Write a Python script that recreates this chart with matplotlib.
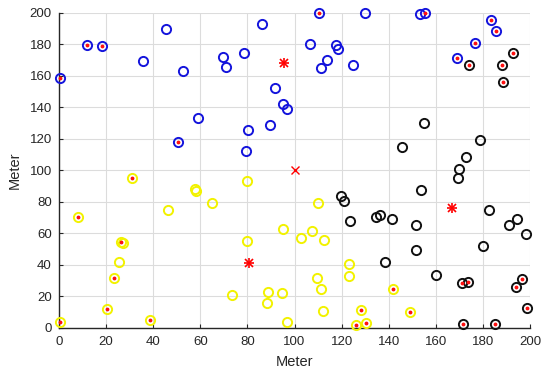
import matplotlib
matplotlib.use('Agg')
import matplotlib.pyplot as plt

plt.rcParams['font.family'] = ['Liberation Sans', 'DejaVu Sans']

# cluster 1 (blue)
blue_x = [0.3, 11.9, 18.4, 35.9, 45.4, 52.7, 59.2, 50.7, 69.8, 70.8, 78.6, 86.0, 80.3, 79.2, 89.5, 91.9,
          95.0, 96.6, 110.4, 129.7, 153.3, 155.4, 183.4, 185.7, 176.6, 168.9, 106.6, 117.6, 118.6, 113.7,
          111.2, 124.6]
blue_y = [158.3, 179.5, 178.9, 169.5, 189.5, 163.0, 133.0, 118.0, 171.7, 165.3, 174.2, 193.0, 125.5, 112.2,
          128.7, 152.0, 142.0, 139.0, 200.0, 200.0, 199.0, 200.0, 195.4, 188.4, 180.6, 171.4, 180.1, 179.7,
          177.0, 169.8, 164.7, 166.6]
blue_head = [1, 1, 1, 0, 0, 0, 0, 1, 0, 0, 0, 0, 0, 0, 0, 0, 0, 0, 1, 0, 0, 1, 1, 1, 1, 1, 0, 0, 0, 0, 0, 0]

# cluster 2 (yellow)
yellow_x = [0.3, 8.3, 26.5, 27.2, 25.7, 23.2, 20.4, 38.7, 31.0, 46.5, 57.8, 58.4, 64.8, 80.0, 79.9, 73.6,
            88.7, 88.3, 94.6, 97.0, 95.0, 102.9, 107.5, 112.6, 110.1, 123.0, 123.2, 109.5, 111.2, 112.0,
            128.1, 126.1, 130.2, 141.8, 149.0]
yellow_y = [4.0, 70.5, 54.5, 53.7, 41.9, 31.4, 11.9, 5.3, 95.2, 74.7, 87.9, 86.9, 79.0, 93.3, 55.2, 20.8,
            22.7, 15.7, 22.2, 3.8, 62.9, 57.1, 61.8, 55.9, 79.0, 40.6, 33.0, 31.4, 24.6, 11.0,
            11.4, 1.7, 3.4, 24.6, 9.8]
yellow_head = [1, 1, 1, 0, 0, 1, 1, 1, 1, 0, 0, 0, 0, 0, 0, 0, 0, 0, 0, 0, 0, 0, 0, 0, 0, 0, 0, 0, 0, 0,
               1, 1, 1, 1, 1]

# cluster 3 (black)
black_x = [174.2, 192.9, 188.2, 188.6, 154.9, 145.8, 178.8, 172.7, 169.7, 169.4, 153.7, 119.8, 121.0, 123.6,
           134.6, 136.2, 141.4, 151.6, 151.6, 138.3, 160.0, 182.4, 194.3, 191.2, 198.1, 179.9, 171.0, 173.5,
           193.9, 196.7, 198.7, 171.4, 185.0]
black_y = [166.6, 174.2, 166.6, 156.0, 130.2, 114.7, 119.2, 108.2, 101.0, 95.2, 87.6, 83.6, 80.4, 67.7,
           70.1, 71.8, 68.8, 65.6, 49.5, 41.9, 33.7, 74.7, 68.8, 65.4, 59.5, 51.9, 28.6, 29.2,
           26.0, 30.9, 12.3, 2.3, 2.3]
black_head = [1, 1, 1, 1, 0, 0, 0, 0, 0, 0, 0, 0, 0, 0, 0, 0, 0, 0, 0, 0, 0, 0, 0, 0, 0, 0, 1, 1,
              1, 1, 1, 1, 1]

center_x = [95.7, 80.5, 166.7]
center_y = [167.9, 41.3, 75.8]
bs_x = [100]
bs_y = [100]

fig = plt.figure(figsize=(5.5, 3.76), dpi=100)
ax = fig.add_axes([0.107, 0.128, 0.857, 0.838])

groups = [(blue_x, blue_y, blue_head, '#1414dc'),
          (yellow_x, yellow_y, yellow_head, '#f2f200'),
          (black_x, black_y, black_head, '#111111')]
for xs, ys, hs, col in groups:
    ax.plot(xs, ys, 'o', ms=6.6, mfc='none', mec=col, mew=1.4, ls='none', clip_on=False, zorder=3)
    hx = [x for x, h in zip(xs, hs) if h]
    hy = [y for y, h in zip(ys, hs) if h]
    ax.plot(hx, hy, '.', ms=3.5, color='#ff1010', ls='none', clip_on=False, zorder=4)

# cluster centres drawn as MATLAB style asterisk (+ and x)
ax.plot(center_x, center_y, '+', ms=7, mew=1.2, color='red', ls='none', zorder=5)
ax.plot(center_x, center_y, 'x', ms=5.5, mew=1.2, color='red', ls='none', zorder=5)
ax.plot(bs_x, bs_y, 'x', ms=6, mew=1, color='red', ls='none', zorder=5)

ax.set_xlim(0, 200)
ax.set_ylim(0, 200)
ax.set_xticks(range(0, 201, 20))
ax.set_yticks(range(0, 201, 20))
ax.grid(True, color='#dcdcdc', lw=0.8)
ax.set_axisbelow(True)
for s in ['top', 'right']:
    ax.spines[s].set_visible(False)
for s in ['left', 'bottom']:
    ax.spines[s].set_color('#262626')
    ax.spines[s].set_linewidth(1.0)
ax.tick_params(direction='in', length=3, labelsize=9.5, colors='#262626')
ax.tick_params(axis='x', pad=6)
ax.tick_params(axis='y', pad=5)
ax.set_xlabel('Meter', fontsize=10.5, color='#262626', labelpad=5)
ax.set_ylabel('Meter', fontsize=10.5, color='#262626', labelpad=6)

fig.savefig('out.png', dpi=100)
